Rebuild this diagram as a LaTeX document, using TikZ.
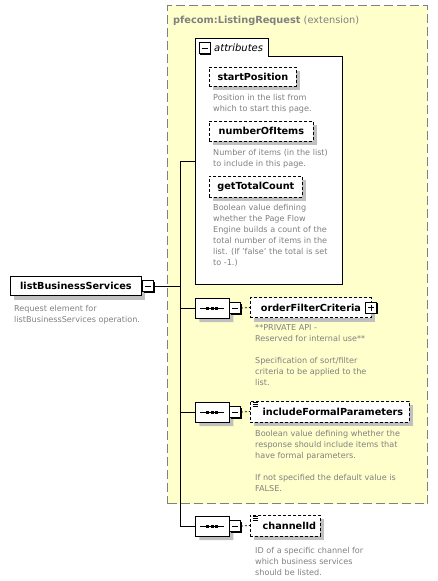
\documentclass[tikz,border=0pt]{standalone}
\usepackage{fontspec}
\setmainfont{DejaVu Sans}
\usetikzlibrary{shapes.misc,shadows}
\definecolor{bgyellow}{RGB}{255,255,204}
\definecolor{txtgray}{RGB}{128,128,128}
\definecolor{shgray}{RGB}{192,192,192}
\begin{document}
\begin{tikzpicture}[x=1pt,y=-1pt,
  namefont/.style={font=\fontsize{9.7}{11}\selectfont\bfseries},
  desc/.style={font=\fontsize{8.1}{11}\selectfont, text=txtgray, align=left, inner sep=0pt, anchor=north west},
  shad/.style={drop shadow={shadow xshift=4pt, shadow yshift=-4pt, fill=shgray, opacity=1, draw=none}},
  elem/.style={draw=black, line width=0.8pt, dash pattern=on 3pt off 2pt, fill=white, inner sep=0pt, minimum height=20pt, anchor=west, namefont, shad},
  reqelem/.style={elem, solid},
  seqbox/.style={chamfered rectangle, chamfered rectangle xsep=5pt, chamfered rectangle ysep=5pt, draw, line width=0.8pt, fill=white, minimum width=34pt, minimum height=20pt, inner sep=0pt, anchor=west, shad},
  ctrlbox/.style={draw, line width=0.8pt, fill=white, minimum size=11pt, inner sep=0pt, drop shadow={shadow xshift=1pt, shadow yshift=-1pt, fill=black, opacity=1, draw=none}},
  minusbox/.style={ctrlbox, path picture={\draw[line width=0.8pt] ([xshift=2.5pt]path picture bounding box.west) -- ([xshift=-2.5pt]path picture bounding box.east);}},
  plusbox/.style={ctrlbox, path picture={\draw[line width=0.8pt] ([xshift=2.5pt]path picture bounding box.west) -- ([xshift=-2.5pt]path picture bounding box.east) ([yshift=-2.5pt]path picture bounding box.north) -- ([yshift=2.5pt]path picture bounding box.south);}},
  conn/.style={line width=0.8pt},
  dconn/.style={line width=0.8pt, dash pattern=on 2pt off 2pt},
  extbox/.style={draw=txtgray, line width=1pt, dash pattern=on 9pt off 4pt, fill=bgyellow, minimum width=260pt, minimum height=498pt, anchor=north west, inner sep=0pt}
]
\useasboundingbox (0,0) rectangle (437,581);

% extension container
\node[extbox] (ext) at (167,5) {};
\node[anchor=base west, inner sep=0pt, text=txtgray, font=\fontsize{9.8}{12}\selectfont] (title) at (173,23) {\textbf{pfecom:ListingRequest} (extension)};

% attributes frame
\coordinate (attTL) at (195,38);
\draw[line width=0.8pt, fill=white] (attTL) -- (268,38) -- (268,56) -- (342,56) -- (342,284) -- (195,284) -- cycle;
\node[minusbox] (attminus) at (204.5,48) {};
\node[anchor=west, inner sep=0pt, font=\fontsize{10}{12}\selectfont\itshape] (attlabel) at (214,48) {attributes};

\node[elem, minimum width=87pt, minimum height=19pt] (sp) at (209,76.5) {startPosition};
\node[desc] (spd) at (213,93.7) {Position in the list from\\which to start this page.};
\node[elem, minimum width=104pt] (noi) at (209,131) {numberOfItems};
\node[desc] (noid) at (213,148.7) {Number of items (in the list)\\to include in this page.};
\node[elem, minimum width=93pt, minimum height=21pt] (gtc) at (209,186.5) {getTotalCount};
\node[desc] (gtcd) at (213,203.7) {Boolean value defining\\whether the Page Flow\\Engine builds a count of the\\total number of items in the\\list. (If 'false' the total is set\\to -1.)};

% root element
\node[reqelem, minimum width=131pt, minimum height=19pt] (lbs) at (10,286) {listBusinessServices};
\node[minusbox] (lbsminus) at (148,286) {};
\node[desc] (lbsd) at (14,304.7) {Request element for\\listBusinessServices operation.};

% bar
\coordinate (bartop) at (180,161);
\coordinate (barbot) at (180,526);
\draw[conn] (bartop) -- (barbot);
\draw[conn] (lbsminus.east) -- (lbsminus.east -| bartop);
\coordinate (attjoin) at (195,161);
\draw[conn] (bartop) -- (attjoin);

% sequence 1
\node[seqbox] (s1) at (195,308) {};
\node[minusbox] (m1) at (235,308) {};
\node[elem, minimum width=121pt] (e1) at (250,307.5) {orderFilterCriteria\hspace{8pt}};
\node[plusbox] (p1) at (371,307.5) {};
\node[desc] (e1d) at (255,324.7) {**PRIVATE API -\\Reserved for internal use**\\[11pt]Specification of sort/filter\\criteria to be applied to the\\list.};

% sequence 2
\node[seqbox] (s2) at (195,412) {};
\node[minusbox] (m2) at (235,412) {};
\node[elem, minimum width=159pt, minimum height=21pt] (e2) at (250,411.5) {\hspace{6pt}includeFormalParameters};
\node[desc] (e2d) at (255,429.7) {Boolean value defining whether the\\response should include items that\\have formal parameters.\\[11pt]If not specified the default value is\\FALSE.};

% sequence 3
\node[seqbox] (s3) at (195,526) {};
\node[minusbox] (m3) at (235,526) {};
\node[elem, minimum width=70pt, minimum height=21pt] (e3) at (250,525.5) {\hspace{8pt}channelId};
\node[desc] (e3d) at (255,546.7) {ID of a specific channel for\\which business services\\should be listed.};

% connectors
\foreach \s/\m/\e in {s1/m1/e1, s2/m2/e2, s3/m3/e3}{
  \draw[conn] (\s.west -| bartop) -- (\s.west);
  \draw[conn] (\s.east) -- (\m.west);
  \draw[dconn] (\m.east) -- (\e.west);
  \draw[line width=0.9pt] ([xshift=-12pt]\s.center) -- ([xshift=12pt]\s.center);
  \foreach \dx in {-4.5,0,4.5}{
    \fill ([xshift=\dx pt]\s.center) ++(-1.5,-1.5) rectangle ++(3,3);
  }
}

% simple content marks
\foreach \e in {e2,e3}{
  \foreach \dy in {1.5,3.5,5.5}{
    \draw[line width=0.6pt] ([xshift=2.5pt,yshift=-\dy pt]\e.north west) -- ++(5,0);
  }
}
\end{tikzpicture}
\end{document}
